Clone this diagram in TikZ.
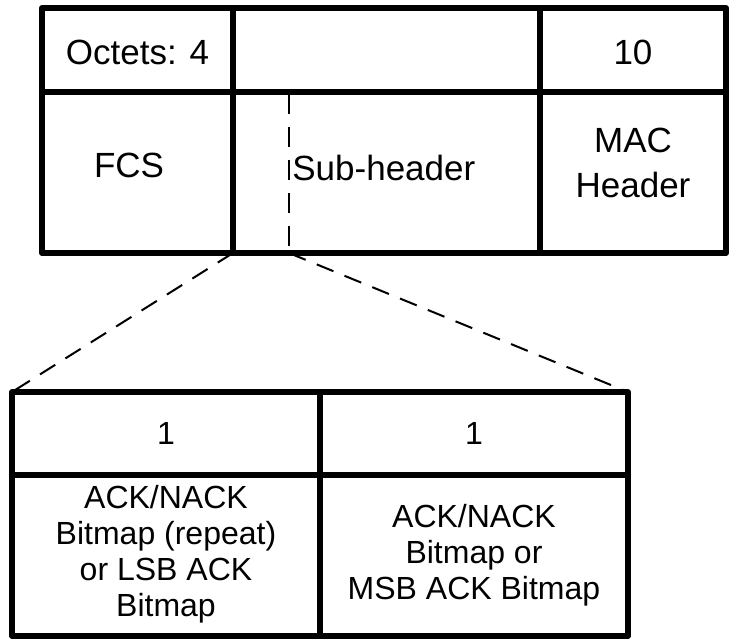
\documentclass[tikz,border=0pt]{standalone}
\usepackage{fontspec}
\setmainfont{Liberation Sans}
\begin{document}
\begin{tikzpicture}[x=0.5pt,y=-0.5pt,
  frame/.style={line width=3pt, line join=round},
  bframe/.style={line width=2.8pt, line join=round},
  innerdash/.style={line width=1.25pt, dash pattern=on 10pt off 6.5pt},
  zoomline/.style={line width=1pt, dash pattern=on 9pt off 6pt},
  toptxt/.style={font=\fontsize{17.5}{22.5}\selectfont, align=center, inner sep=0pt},
  bottxt/.style={font=\fontsize{16}{18}\selectfont, align=center, inner sep=0pt}]
\useasboundingbox (0,0) rectangle (729,638);
% top table
\coordinate (tTL) at (42,8);
\coordinate (tBR) at (726,253);
\coordinate (c1top) at (233,8);
\coordinate (c1bot) at (233,253);
\coordinate (c2top) at (540,8);
\coordinate (c2bot) at (540,253);
\coordinate (sdTop) at (289,94);
\coordinate (sdBot) at (289,253);
\draw[frame] (tTL) rectangle (tBR);
\draw[frame] (42,92) -- (726,92);
\draw[frame] (c1top) -- (c1bot);
\draw[frame] (c2top) -- (c2bot);
\draw[innerdash] (sdTop) -- (sdBot);
\node[toptxt] (oct) at (137.5,52) {Octets: 4};
\node[toptxt] (ten) at (633,52) {10};
\node[toptxt] (fcs) at (129,165) {FCS};
\node[toptxt, anchor=west] (sub) at (292,168) {Sub-header};
\node[toptxt] (mac) at (633,163) {MAC\\Header};
% bottom table
\coordinate (bTL) at (12,392);
\coordinate (bTR) at (628,392);
\coordinate (bBR) at (628,636);
\coordinate (bc1top) at (320,392);
\coordinate (bc1bot) at (320,636);
\draw[bframe] (bTL) rectangle (bBR);
\draw[bframe] (12,475) -- (628,475);
\draw[bframe] (bc1top) -- (bc1bot);
\node[bottxt] (b1) at (166,433) {1};
\node[bottxt] (b2) at (474,433) {1};
\node[bottxt] (lsb) at (166,554) {ACK/NACK\\Bitmap (repeat)\\or LSB ACK\\Bitmap};
\node[bottxt] (msb) at (474,555) {ACK/NACK\\Bitmap or\\MSB ACK Bitmap};
% zoom lines
\draw[zoomline] (c1bot) -- (bTL);
\draw[zoomline] (sdBot) -- (bTR);
\end{tikzpicture}
\end{document}
